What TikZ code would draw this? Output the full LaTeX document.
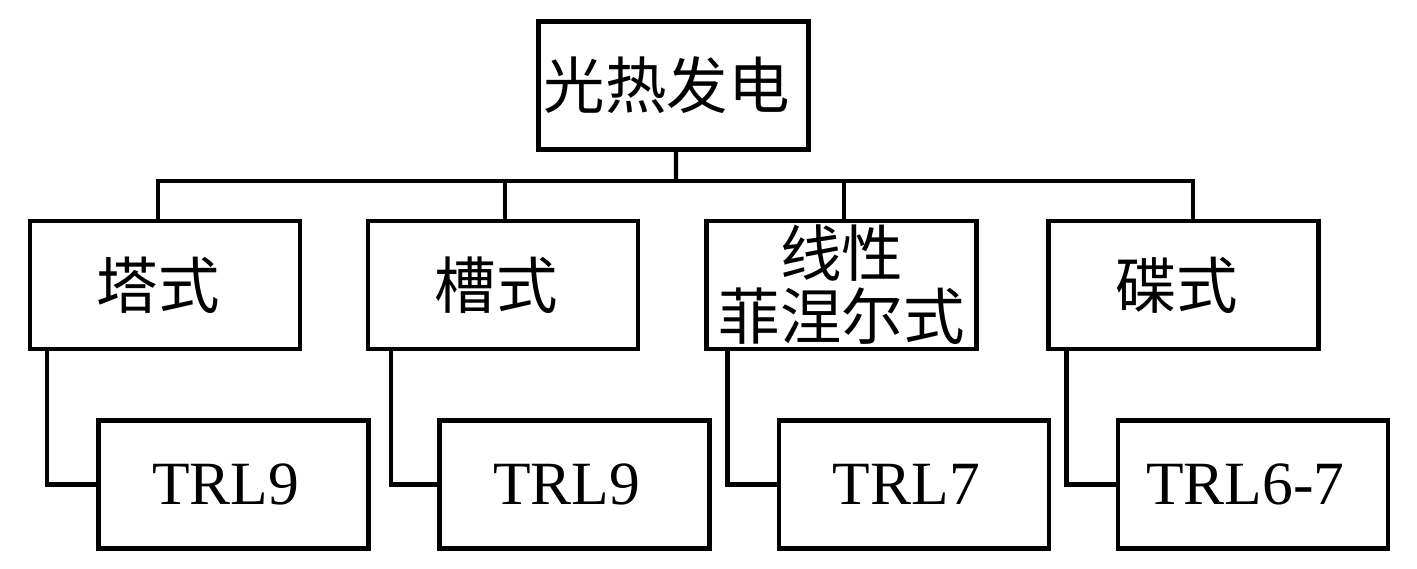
\documentclass[tikz,border=0pt]{standalone}
\usepackage{fontspec}
\setmainfont{Liberation Serif}
\newfontfamily\cjk{Noto Sans CJK SC}
\begin{document}
\begin{tikzpicture}[line width = 2.3pt, every node/.style={draw, minimum width = 5.4cm, minimum height = 2.56cm, inner sep = 0pt, align = center}, every node/.append style={font = \fontsize{35}{36}\selectfont}]

  \useasboundingbox (0, 0) rectangle (28.34, 11.38);

  \node (top) at (13.47, 9.67) { \cjk 光热发电 };

  \node (tower) at (3.30, 5.68) { \cjk 塔式 };
  \node (trough) at (10.06, 5.68) { \cjk 槽式 };
  \node (fresnel) at (16.83, 5.68) { \cjk 线性\\ \cjk 菲涅尔式 };
  \node (dish) at (23.67, 5.68) { \cjk 碟式 };

  \node (trlA) at (4.67, 1.69) { TRL9 };
  \node (trlB) at (11.49, 1.69) { TRL9 };
  \node (trlC) at (18.28, 1.69) { TRL7 };
  \node (trlD) at (25.06, 1.69) { TRL6-7 };

  \coordinate (bus) at (13.52, 7.76);

  \draw ([xshift = 0.05cm]top.south) -- (bus);
  \draw ([xshift = -0.14cm]tower.north) |- (bus);
  \draw ([xshift = 0.04cm]trough.north) |- (bus);
  \draw ([xshift = 0.05cm]fresnel.north) |- (bus);
  \draw ([xshift = 0.19cm]dish.north) |- (bus);

  \draw ([xshift = 0.38cm]tower.south west) |- (trlA.west);
  \draw ([xshift = 0.5cm]trough.south west) |- (trlB.west);
  \draw ([xshift = 0.46cm]fresnel.south west) |- (trlC.west);
  \draw ([xshift = 0.4cm]dish.south west) |- (trlD.west);

\end{tikzpicture}
\end{document}
